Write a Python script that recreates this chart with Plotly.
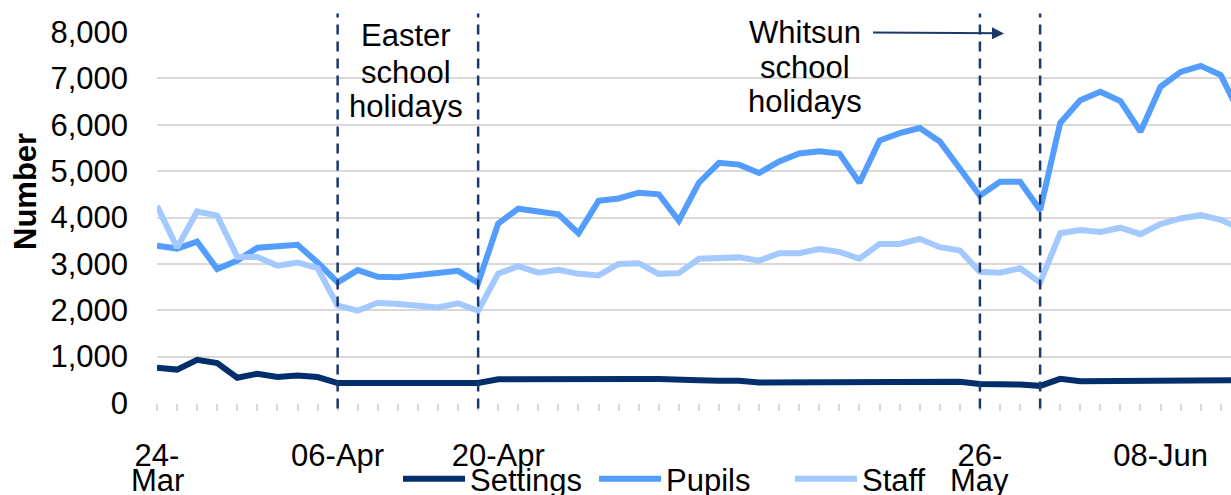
import plotly.graph_objects as go

dates = ["24-Mar", "25-Mar", "26-Mar", "27-Mar", "30-Mar", "31-Mar", "01-Apr", "02-Apr", "03-Apr",
         "06-Apr", "07-Apr", "08-Apr", "09-Apr", "14-Apr", "15-Apr", "16-Apr", "17-Apr",
         "20-Apr", "21-Apr", "22-Apr", "23-Apr", "24-Apr", "27-Apr", "28-Apr", "29-Apr", "30-Apr",
         "01-May", "04-May", "05-May", "06-May", "07-May", "11-May", "12-May", "13-May", "14-May",
         "15-May", "18-May", "19-May", "20-May", "21-May", "22-May", "26-May", "27-May", "28-May",
         "29-May", "01-Jun", "02-Jun", "03-Jun", "04-Jun", "05-Jun", "08-Jun", "09-Jun", "10-Jun",
         "11-Jun", "12-Jun"]

settings = [760, 720, 930, 860, 545, 630, 560, 595, 560, 430,
            430, 430, 430, 430, 430, 430, 430, 510, 515, 515,
            515, 515, 515, 515, 515, 515, 515, 490, 480, 480,
            440, 440, 440, 460, 440, 460, 460, 460, 460, 460,
            460, 410, 410, 400, 370, 520, 470, 470, 470, 470,
            490, 490, 490, 490, 490]

pupils = [3390, 3330, 3480, 2890, 3070, 3350, 3380, 3410, 3030, 2600,
          2865, 2720, 2710, 2760, 2780, 2850, 2590, 3870, 4190, 4130,
          4070, 3660, 4360, 4410, 4535, 4500, 3930, 4750, 5180, 5140,
          4960, 5210, 5380, 5430, 5380, 4750, 5660, 5820, 5930, 5640,
          5040, 4470, 4770, 4770, 4160, 6040, 6530, 6710, 6510, 5850,
          6820, 7140, 7270, 7070, 6200]

staff = [4250, 3350, 4130, 4040, 3150, 3150, 2960, 3030, 2910, 2100,
         1990, 2160, 2135, 2110, 2060, 2150, 1990, 2790, 2950, 2810,
         2870, 2785, 2750, 3000, 3015, 2785, 2800, 3110, 3110, 3140,
         3070, 3230, 3230, 3320, 3260, 3110, 3430, 3430, 3540, 3360,
         3290, 2830, 2810, 2905, 2600, 3660, 3730, 3690, 3780, 3640,
         3860, 3980, 4050, 3950, 3750]

# tick label first line; second line (for wrapped labels) added below
tick_labels = {"24-Mar": ("24-", "Mar"), "06-Apr": ("06-Apr", ""), "20-Apr": ("20-Apr", ""),
               "26-May": ("26-", "May"), "08-Jun": ("08-Jun", "")}

holiday_lines = ["06-Apr", "17-Apr", "26-May", "29-May"]
easter_text = ["Easter", "school", "holidays"]
whitsun_text = ["Whitsun", "school", "holidays"]

C_SET = "#022F6B"
C_PUP = "#539DFF"
C_STA = "#A3C9FF"
NAVY = "#1B3A6B"
FONT = "Liberation Sans, Arial, sans-serif"
FS = 31

PLOT_LEFT, PLOT_W = 157, 1074
PLOT_TOP, PLOT_H = 32, 371


def py(pix):
    """pixel row -> paper y"""
    return (PLOT_TOP + PLOT_H - pix) / PLOT_H


def px(pix):
    """pixel column -> paper x"""
    return (pix - PLOT_LEFT) / PLOT_W


fig = go.Figure()
for name, vals, col in [("Settings", settings, C_SET), ("Pupils", pupils, C_PUP), ("Staff", staff, C_STA)]:
    fig.add_trace(go.Scatter(x=dates, y=vals, mode="lines", name=name,
                             line=dict(color=col, width=6)))

for d in holiday_lines:
    fig.add_shape(type="line", xref="x", yref="paper", x0=d, x1=d, y0=-0.015, y1=1.05,
                  line=dict(color=NAVY, width=2.5, dash="10px,7px"), layer="above")

for txt, yp in zip(easter_text, [35, 72, 107]):
    fig.add_annotation(text=txt, xref="x", yref="paper", x=12.43, y=py(yp), yanchor="middle",
                       showarrow=False, font=dict(family=FONT, size=FS, color="#000"))
for txt, yp in zip(whitsun_text, [32, 67, 102]):
    fig.add_annotation(text=txt, xref="x", yref="paper", x=32.3, y=py(yp), yanchor="middle",
                       showarrow=False, font=dict(family=FONT, size=FS, color="#000"))
fig.add_annotation(text="", xref="x", yref="y", axref="x", ayref="y",
                   x=42.2, y=7970, ax=35.6, ay=7990, showarrow=True,
                   arrowhead=2, arrowsize=1.2, arrowwidth=2, arrowcolor=NAVY)
fig.add_annotation(text="<b>Number</b>", xref="paper", yref="paper", x=px(25), y=py(192),
                   textangle=-90, showarrow=False, xanchor="center", yanchor="middle",
                   font=dict(family=FONT, size=FS, color="#000"))
for d, (l1, l2) in tick_labels.items():
    if l2:
        fig.add_annotation(text=l2, xref="x", yref="paper", x=d, y=py(480), yanchor="middle",
                           showarrow=False, font=dict(family=FONT, size=FS, color="#000"))

fig.update_layout(
    width=1231, height=495, autosize=False,
    margin=dict(l=PLOT_LEFT, r=0, t=PLOT_TOP, b=495 - PLOT_TOP - PLOT_H, autoexpand=False),
    plot_bgcolor="white", paper_bgcolor="white",
    font=dict(family=FONT, size=FS, color="#000"),
    legend=dict(orientation="h", x=px(398), xanchor="left", y=py(479), yanchor="middle",
                font=dict(family=FONT, size=FS, color="#000"), bgcolor="rgba(0,0,0,0)",
                itemwidth=62, entrywidth=119, entrywidthmode="pixels", tracegroupgap=0),
    xaxis=dict(type="category", range=[0, 53.51],
               tickmode="array", tickvals=dates,
               ticktext=[tick_labels[d][0] if d in tick_labels else "" for d in dates],
               ticks="outside", ticklen=7, tickwidth=2, tickcolor="#D9D9D9",
               showgrid=False, showline=False, zeroline=False,
               ticklabelstandoff=18, tickangle=0, automargin=False,
               tickfont=dict(family=FONT, size=FS, color="#000")),
    yaxis=dict(range=[0, 8000], dtick=1000, tickformat=",",
               showgrid=True, gridcolor="#D9D9D9", gridwidth=2,
               zeroline=False, showline=False, ticks="", automargin=False,
               ticklabelstandoff=28,
               tickfont=dict(family=FONT, size=FS, color="#000")),
)

fig.write_html("out.html", config={"displayModeBar": False},
               post_script="document.body.style.margin='0';document.body.style.padding='0';")
